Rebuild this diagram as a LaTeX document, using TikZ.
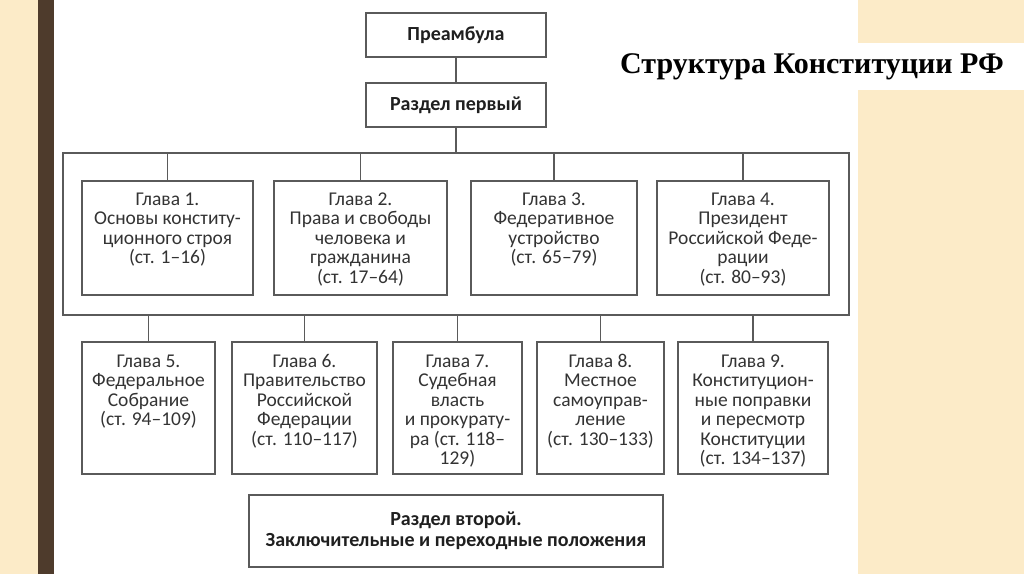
\documentclass[tikz,border=0pt]{standalone}
\usepackage{fontspec}
\setmainfont{Carlito}
\newfontfamily\titlefont{Liberation Serif}
\definecolor{beige}{HTML}{FCEBC8}
\definecolor{brownbar}{HTML}{4E3B2C}
\definecolor{linegray}{HTML}{5A5A5A}
\definecolor{txtgray}{HTML}{333333}
\tikzset{
  boxshape/.style={draw=linegray, line width=1.4pt, rectangle, inner sep=0pt, outer sep=0pt},
  boxtext/.style={text=txtgray, font=\fontsize{19.5}{19.5}\selectfont},
  boldtext/.style={align=center, text=black!88, font=\fontsize{20}{20.5}\selectfont\bfseries},
  conn/.style={draw=linegray, line width=1.4pt}
}
% name, x1, y1, x2, y2 (pixels, y down)
\newcommand{\mkbox}[6][]{%
  \node[boxshape, minimum width={#4-#2}, minimum height={#5-#3}, #1] (#6) at ({(#2+#4)/2},{(#3+#5)/2})}
% chapter box: name x1 y1 x2 y2 pad text
\newcommand{\chapbox}[7]{%
  \node[boxshape, boxtext, minimum width={#4-#2}, minimum height={#5-#3}] (#1) at ({(#2+#4)/2},{(#3+#5)/2})
  {\parbox[c][\dimexpr#5pt-#3pt\relax][t]{\dimexpr#4pt-#2pt\relax}{\lineskiplimit=-\maxdimen\centering\vspace*{\dimexpr#6pt-1.4pt\relax}\rule{0pt}{13.7pt}#7\par}};}
\begin{document}
\begin{tikzpicture}[x=1pt,y=-1pt]
\useasboundingbox (0,0) rectangle (1024,574);
% background
\fill[beige] (0,0) rectangle (1024,574);
\fill[white] (54,0) rectangle (858,574);
\fill[white] (858,43) rectangle (1024,90);
\fill[brownbar] (38,0) rectangle (54,574);
% title
\node[font=\titlefont\bfseries\fontsize{30}{34}\selectfont, text=black, inner sep=0pt] (title) at (812,67) {Структура Конституции РФ};
% top boxes
\mkbox[boldtext]{366}{13}{546}{57}{pre} {Преамбула};
\mkbox[boldtext]{366}{83}{546}{127}{r1} {Раздел первый};
\mkbox{63}{153}{849}{315}{big} {};
% row 1
\chapbox{g1}{82}{181}{253}{295}{12}{Глава 1.\\Основы конститу-\\ционного строя\\(ст. 1–16)}
\chapbox{g2}{274}{181}{447}{295}{12}{Глава 2.\\Права и свободы\\человека и\\гражданина\\(ст. 17–64)}
\chapbox{g3}{471}{181}{637}{295}{12}{Глава 3.\\Федеративное\\устройство\\(ст. 65–79)}
\chapbox{g4}{657}{181}{829}{295}{12}{Глава 4.\\Президент\\Российской Феде-\\рации\\(ст. 80–93)}
% row 2
\chapbox{g5}{82}{342}{215}{474}{13}{Глава 5.\\Федеральное\\Собрание\\(ст. 94–109)}
\chapbox{g6}{232}{342}{377}{474}{13}{Глава 6.\\Правительство\\Российской\\Федерации\\(ст. 110–117)}
\chapbox{g7}{393}{342}{522}{474}{13}{Глава 7.\\Судебная\\власть\\и прокурату-\\ра (ст. 118–\\129)}
\chapbox{g8}{537}{342}{664}{474}{13}{Глава 8.\\Местное\\самоуправ-\\ление\\(ст. 130–133)}
\chapbox{g9}{678}{342}{828}{474}{13}{Глава 9.\\Конституцион-\\ные поправки\\и пересмотр\\Конституции\\(ст. 134–137)}
% section two
\mkbox[boldtext]{249}{495}{663}{567}{r2} {Раздел второй.\\Заключительные и переходные положения};
% connectors
\draw[conn] (pre.south) -- (r1.north);
\draw[conn] (r1.south) -- (big.north);
\foreach \g in {g1,g2,g3,g4} {\draw[conn] (\g.north) -- (\g.north |- big.north);}
\foreach \g in {g5,g6,g7,g8,g9} {\draw[conn] (\g.north) -- (\g.north |- big.south);}
\end{tikzpicture}
\end{document}
